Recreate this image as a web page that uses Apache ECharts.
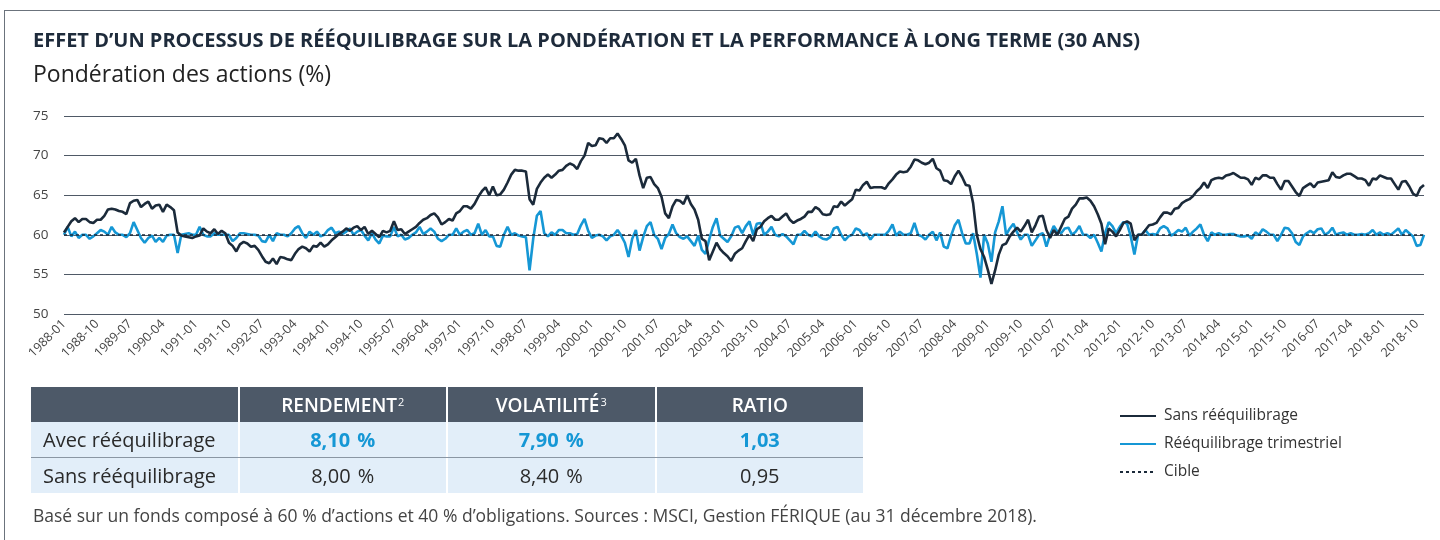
<!DOCTYPE html>
<html>
<head>
<meta charset="utf-8">
<script src="https://cdn.jsdelivr.net/npm/echarts@6/dist/echarts.min.js"></script>
<style>
  html, body { margin: 0; padding: 0; background: #fff; }
  body { width: 1440px; height: 540px; position: relative; overflow: hidden; font-family: "Open Sans", Lato, sans-serif; }
  #frame { position: absolute; left: 4px; top: 10px; width: 1460px; height: 560px; border-top: 1px solid #6b737c; border-left: 1px solid #6b737c; }
  #chart { position: absolute; left: 0; top: 0; width: 1440px; height: 540px; }
  #tbl { position: absolute; left: 31px; top: 387px; width: 832px; }
  .row { display: flex; }
  .cell { box-sizing: border-box; width: 207px; margin-right: 2px; display: flex; align-items: center; justify-content: center; }
  .cell:last-child { margin-right: 0; }
  .head .cell { height: 35px; background: #4d5968; color: #fff; font-weight: 600; font-size: 19px; }
  .head .cell sup { font-size: 11px; font-weight: 400; position: relative; top: -3px; margin-left: 1px; line-height: 0; }
  .body .cell { height: 35px; background: #e2eef9; color: #2a2a2a; font-size: 20px; word-spacing: 2px; }
  .body .cell.lab { justify-content: flex-start; padding-left: 12px; word-spacing: 0; }
  .body .cell.hl { color: #1597d5; font-weight: 700; }
  .sep { height: 1px; background: #8a96a3; width: 832px; }
  #note { position: absolute; left: 33px; top: 503px; font-size: 17.5px; color: #444; white-space: nowrap; }
</style>
</head>
<body>
<div id="frame"></div>
<div id="chart"></div>
<div id="tbl">
  <div class="row head">
    <div class="cell"></div>
    <div class="cell">RENDEMENT<sup>2</sup></div>
    <div class="cell">VOLATILITÉ<sup>3</sup></div>
    <div class="cell">RATIO</div>
  </div>
  <div class="row body">
    <div class="cell lab">Avec rééquilibrage</div>
    <div class="cell hl">8,10 %</div>
    <div class="cell hl">7,90 %</div>
    <div class="cell hl">1,03</div>
  </div>
  <div class="sep"></div>
  <div class="row body">
    <div class="cell lab">Sans rééquilibrage</div>
    <div class="cell">8,00 %</div>
    <div class="cell">8,40 %</div>
    <div class="cell">0,95</div>
  </div>
</div>
<div id="note">Basé sur un fonds composé à 60 % d’actions et 40 % d’obligations. Sources : MSCI, Gestion FÉRIQUE (au 31 décembre 2018).</div>
<script>
// months 1988-01 .. 2018-12
var firstYear = 1988, lastYear = 2018;
var months = [];
for (var y = firstYear; y <= lastYear; y++) {
  for (var m = 1; m <= 12; m++) months.push(y + '-' + (m < 10 ? '0' + m : m));
}

var target = 60;

// Sans rééquilibrage (one row per year)
var sansReeq = [
  60.3,61.0,61.7,62.1,61.6,62.0,62.0,61.6,61.5,61.9,61.9,62.4,
  63.2,63.3,63.2,63.0,62.9,62.6,64.0,64.3,64.4,63.5,63.9,64.2,
  63.3,63.7,63.8,62.9,63.8,63.5,63.1,60.3,59.9,59.8,59.7,59.6,
  59.8,59.9,60.8,60.4,60.2,60.7,60.1,60.5,60.2,59.0,58.6,57.9,
  58.8,59.1,58.9,58.5,58.6,58.1,57.3,56.6,56.4,57.0,56.3,57.2,
  57.1,56.9,56.8,57.6,58.2,58.5,58.3,57.9,58.6,58.5,59.0,58.5,
  58.8,59.3,59.7,60.1,60.4,60.8,60.5,60.9,61.1,60.6,61.0,60.1,
  60.5,60.1,59.7,60.5,60.3,60.5,61.7,60.6,60.7,60.1,60.4,60.7,
  61.0,61.5,61.9,62.1,62.5,62.7,62.2,61.3,61.6,62.0,61.8,62.7,
  63.0,63.6,63.6,63.3,63.9,64.8,65.5,66.0,65.0,66.1,65.0,65.1,
  65.7,66.6,67.6,68.2,68.1,68.1,68.0,64.5,63.8,65.8,66.6,67.2,
  67.6,67.2,67.6,68.1,68.2,68.7,69.0,68.8,68.3,69.3,70.0,71.6,
  71.2,71.3,72.2,72.1,71.6,72.2,72.2,72.8,72.1,71.3,69.4,69.1,
  69.6,67.5,65.9,67.2,67.3,66.4,65.9,64.8,62.7,62.1,63.6,64.4,
  64.3,63.9,65.0,63.9,63.2,61.9,59.5,59.2,56.8,57.9,59.0,58.2,
  57.7,57.3,56.7,57.6,58.0,58.3,59.2,60.0,59.2,60.7,61.0,61.7,
  62.1,62.4,61.9,61.9,62.3,62.7,61.9,61.5,61.8,62.0,62.3,62.9,
  62.9,63.5,63.2,62.6,62.5,62.6,63.6,63.5,64.2,63.7,64.1,64.5,
  65.7,65.6,66.3,66.7,65.9,66.0,66.0,66.0,65.8,66.5,67.0,67.6,
  68.0,67.9,68.0,68.6,69.5,69.4,69.1,68.9,69.1,69.6,68.4,68.1,
  66.9,66.8,66.4,67.4,68.1,67.3,66.3,66.2,64.0,60.0,58.2,57.2,
  55.6,53.8,55.5,57.5,58.7,58.9,59.8,60.4,60.9,60.4,61.1,61.9,
  60.3,61.2,62.3,62.4,60.6,59.6,60.6,60.0,61.0,62.0,62.3,63.3,
  63.8,64.6,64.6,64.7,64.3,63.6,62.6,61.4,58.8,60.8,60.4,59.8,
  60.6,61.5,61.7,61.4,59.3,60.0,60.0,60.6,61.2,61.3,61.5,62.2,
  62.8,62.8,62.6,63.3,63.4,64.0,64.3,64.5,64.9,65.5,65.9,66.6,
  65.9,66.9,67.1,67.2,67.1,67.5,67.6,67.8,67.5,67.2,67.2,67.0,
  66.3,67.2,67.0,67.5,67.5,67.2,67.2,66.4,65.7,66.8,66.8,66.1,
  65.4,64.9,65.9,66.2,66.5,66.0,66.6,66.7,66.8,66.9,67.9,67.3,
  67.2,67.5,67.7,67.7,67.4,67.1,67.1,66.9,66.2,67.1,67.0,67.5,
  67.3,67.1,67.1,66.4,65.7,66.7,66.8,66.1,65.2,64.9,65.9,66.3
];

// Rééquilibrage trimestriel (one row per year)
var trimestriel = [
  60.0,61.0,59.8,60.4,59.6,60.0,60.0,59.5,59.8,60.2,60.6,60.4,
  60.0,61.0,60.3,60.0,60.0,59.7,60.2,61.6,60.6,59.6,59.0,59.6,
  59.9,59.1,59.6,59.1,59.9,60.0,60.0,57.7,60.0,60.1,60.2,60.0,
  60.0,61.0,60.0,59.8,59.8,60.2,60.0,60.0,60.0,60.0,59.2,59.6,
  60.2,60.2,60.1,60.0,60.0,59.9,59.2,59.1,60.0,59.2,60.2,60.0,
  60.0,59.8,60.2,60.8,61.1,60.2,59.6,60.4,60.0,60.4,59.8,60.0,
  60.6,60.9,60.2,60.4,60.1,60.4,60.8,60.0,60.4,60.6,59.9,59.3,
  60.2,59.4,58.9,59.9,59.8,59.8,61.0,59.8,60.0,59.4,59.6,60.0,
  60.3,61.0,60.1,60.4,60.8,60.4,59.5,59.2,59.5,60.0,60.0,60.8,
  60.0,60.4,60.6,60.0,60.2,61.4,60.0,60.6,59.8,59.8,58.6,58.5,
  60.0,61.0,60.0,60.2,59.9,59.8,59.7,55.5,59.5,62.4,63.0,60.2,
  59.8,60.3,60.0,60.6,60.6,60.2,60.2,60.0,60.1,61.2,62.0,60.5,
  59.6,59.9,60.0,59.8,59.3,59.8,60.0,60.6,59.9,59.0,57.2,59.5,
  60.6,58.0,59.7,61.1,61.6,60.0,59.5,58.2,59.6,60.1,61.3,60.2,
  59.7,59.5,59.8,59.2,58.6,59.9,58.1,57.6,59.4,61.0,62.1,59.9,
  59.5,59.1,59.8,60.9,61.1,60.2,61.1,61.7,60.0,61.4,61.5,60.0,
  60.4,61.0,60.0,59.8,60.1,59.8,59.3,58.8,60.0,60.0,60.5,60.0,
  59.8,60.4,59.8,59.5,59.4,59.7,60.8,61.0,60.0,59.3,59.8,60.0,
  60.8,60.6,59.9,60.2,59.4,60.0,60.0,60.0,60.0,60.5,61.3,59.9,
  60.4,60.0,60.0,60.2,61.5,60.0,59.8,59.4,60.0,60.4,59.3,60.3,
  58.5,58.3,59.9,61.2,61.9,60.2,58.9,58.9,60.2,57.6,54.6,60.0,
  58.9,56.6,60.3,61.7,63.6,60.0,60.8,61.4,60.3,59.4,60.0,60.0,
  58.6,59.3,60.0,60.2,58.5,60.0,61.1,60.4,60.2,60.8,60.9,60.0,
  60.4,61.1,60.0,60.0,59.6,60.0,59.0,57.9,60.2,61.6,61.1,60.2,
  61.0,61.6,61.4,59.8,57.5,60.0,60.0,60.6,60.0,60.1,60.0,60.8,
  61.1,60.8,59.9,60.2,60.6,60.4,60.9,59.9,60.4,60.8,61.3,60.0,
  59.2,60.3,60.0,60.2,60.0,60.0,60.1,60.1,59.9,59.8,59.8,59.9,
  59.5,60.3,60.0,60.7,60.4,60.0,60.0,59.2,60.0,60.9,60.8,60.2,
  59.1,58.7,59.8,60.2,60.5,60.2,60.7,60.8,60.0,60.3,60.9,60.0,
  60.2,60.3,60.0,60.2,60.0,60.0,60.1,60.0,60.2,60.6,60.0,60.3,
  60.0,60.2,60.0,60.4,60.8,60.0,60.6,60.2,59.8,58.6,58.7,60.0
];

var navy = '#1b2a3a', blue = '#1597d5';
var font = 'Open Sans';

var chart = echarts.init(document.getElementById('chart'), null, { renderer: 'canvas' });
chart.setOption({
  animation: false,
  textStyle: { fontFamily: font },
  title: [
    { text: 'EFFET D’UN PROCESSUS DE RÉÉQUILIBRAGE SUR LA PONDÉRATION ET LA PERFORMANCE À LONG TERME (30 ANS)',
      left: 33, top: 31, padding: 0,
      textStyle: { fontSize: 20, fontWeight: 'bold', color: '#1e2b3b', fontFamily: font } },
    { text: 'Pondération des actions (%)',
      left: 33, top: 64, padding: 0,
      textStyle: { fontSize: 23, fontWeight: 'normal', color: '#222', fontFamily: font } }
  ],
  legend: {
    data: ['Sans rééquilibrage', 'Rééquilibrage trimestriel', 'Cible'],
    orient: 'vertical', left: 1119, top: 408, padding: 0,
    itemWidth: 36, itemHeight: 14, itemGap: 12,
    itemStyle: { opacity: 0 },
    textStyle: { fontSize: 15.5, color: '#333', padding: [0, 0, 0, 3] }
  },
  grid: { left: 64, right: 16, top: 116, bottom: 226 },
  xAxis: {
    type: 'category', data: months, boundaryGap: false,
    axisLine: { show: false }, axisTick: { show: false },
    axisLabel: { interval: 8, rotate: 45, fontSize: 12.5, color: '#444', margin: 8 }
  },
  yAxis: {
    type: 'value', min: 50, max: 75, interval: 5,
    axisLine: { show: false }, axisTick: { show: false },
    axisLabel: { fontSize: 13.5, color: '#444', align: 'left', margin: 31 },
    splitLine: { lineStyle: { color: '#4f5966', width: 1 } }
  },
  series: [
    { name: 'Cible', type: 'line', data: [], symbol: 'none',
      lineStyle: { color: navy, width: 1.5, type: [3, 3] }, itemStyle: { color: navy },
      markLine: { silent: true, symbol: 'none', label: { show: false },
        lineStyle: { color: navy, width: 1.5, type: [3, 3] },
        data: [{ yAxis: target }] } },
    { name: 'Rééquilibrage trimestriel', type: 'line', data: trimestriel, symbol: 'none',
      lineStyle: { color: blue, width: 2.6 }, itemStyle: { color: blue } },
    { name: 'Sans rééquilibrage', type: 'line', data: sansReeq, symbol: 'none',
      lineStyle: { color: navy, width: 2.6 }, itemStyle: { color: navy } }
  ]
});
</script>
</body>
</html>
